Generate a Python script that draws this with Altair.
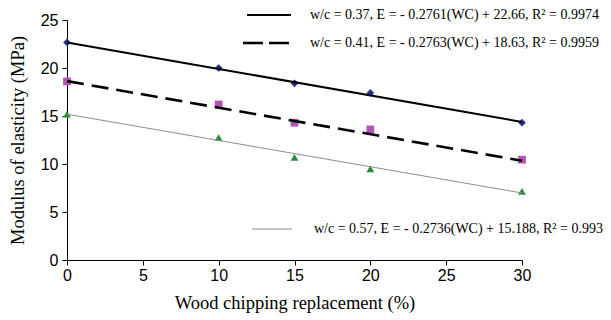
import altair as alt
import pandas as pd

# measured data
replacement = [0, 10, 15, 20, 30]
e_037 = [22.66, 20.0, 18.4, 17.4, 14.3]
e_041 = [18.6, 16.2, 14.3, 13.6, 10.45]
e_057 = [15.2, 12.75, 10.7, 9.5, 7.15]

# trend line end points (x = 0 and x = 30)
trend_x = [0, 30]
trend_037 = [22.66, 14.38]
trend_041 = [18.63, 10.34]
trend_057 = [15.188, 6.98]

labels = [
    "w/c = 0.37, E = - 0.2761(WC) + 22.66, R² = 0.9974",
    "w/c = 0.41, E = - 0.2763(WC) + 18.63, R² = 0.9959",
    "w/c = 0.57, E = - 0.2736(WC) + 15.188, R² = 0.993",
]

x_ticks = [0, 5, 10, 15, 20, 25, 30]
y_ticks = [0, 5, 10, 15, 20, 25]

pts = pd.DataFrame({
    "x": replacement * 3,
    "y": e_037 + e_041 + e_057,
    "s": ["a"] * 5 + ["b"] * 5 + ["c"] * 5,
})

xs = alt.Scale(domain=[0, 30], nice=False)
ys = alt.Scale(domain=[0, 25], nice=False)

x_axis = alt.Axis(values=x_ticks, title="Wood chipping replacement (%)", titlePadding=10)
y_axis = alt.Axis(values=y_ticks, title="Modulus of elasticity (MPa)", titlePadding=13)

markers = alt.Chart(pts).mark_point(filled=True, size=60, opacity=1).encode(
    x=alt.X("x:Q", scale=xs, axis=x_axis),
    y=alt.Y("y:Q", scale=ys, axis=y_axis),
    shape=alt.Shape("s:N", scale=alt.Scale(domain=["a", "b", "c"], range=["diamond", "square", "triangle-up"]), legend=None),
    color=alt.Color("s:N", scale=alt.Scale(domain=["a", "b", "c"], range=["#2B2E8C", "#B553B5", "#2A8A3A"]), legend=None),
)

def trend(vals, color, width, dash=None):
    df = pd.DataFrame({"x": trend_x, "y": vals})
    kw = dict(color=color, strokeWidth=width)
    if dash:
        kw["strokeDash"] = dash
    return alt.Chart(df).mark_line(**kw).encode(
        x=alt.X("x:Q", scale=xs, axis=x_axis), y=alt.Y("y:Q", scale=ys, axis=y_axis))

l1 = trend(trend_037, "black", 2)
l2 = trend(trend_041, "black", 2.6, [17, 8])
l3 = trend(trend_057, "#8c8c8c", 1)

# legend (annotations)
def leg_line(x1, x2, y, color, width, dash=None):
    kw = dict(color=color, strokeWidth=width)
    if dash:
        kw["strokeDash"] = dash
    return alt.Chart(pd.DataFrame({"k": [0]})).mark_rule(**kw).encode(
        x=alt.value(x1), x2=alt.value(x2), y=alt.value(y))

def leg_text(x, y, t):
    return alt.Chart(pd.DataFrame({"t": [t]})).mark_text(
        align="left", baseline="middle", font="Liberation Serif", fontSize=14, color="black"
    ).encode(x=alt.value(x), y=alt.value(y), text="t:N")

legend = (
    leg_line(180, 224, -5, "black", 2) + leg_text(243, -5, labels[0]) +
    leg_line(176, 224, 23, "black", 2.6, [20, 6]) + leg_text(243, 23, labels[1]) +
    leg_line(185, 225, 209, "#8c8c8c", 1) + leg_text(247, 209, labels[2])
)

chart = (markers + l1 + l2 + l3 + legend).properties(
    width=455, height=240,
    autosize=alt.AutoSizeParams(type="none"),
    padding={"left": 59, "top": 12, "right": 81, "bottom": 53},
    background="white",
).configure_view(stroke=None).configure_axis(
    grid=False,
    titleFont="Liberation Serif", titleFontSize=18.5, titleFontWeight="normal", titleColor="black",
    labelFont="Liberation Sans", labelFontSize=16, labelColor="black",
    domainColor="black", tickColor="black", tickSize=5, labelFlush=False,
).configure_axisX(labelPadding=2).configure_axisY(labelPadding=4)

chart.save("out.html", embed_options={"renderer": "svg", "actions": False})
